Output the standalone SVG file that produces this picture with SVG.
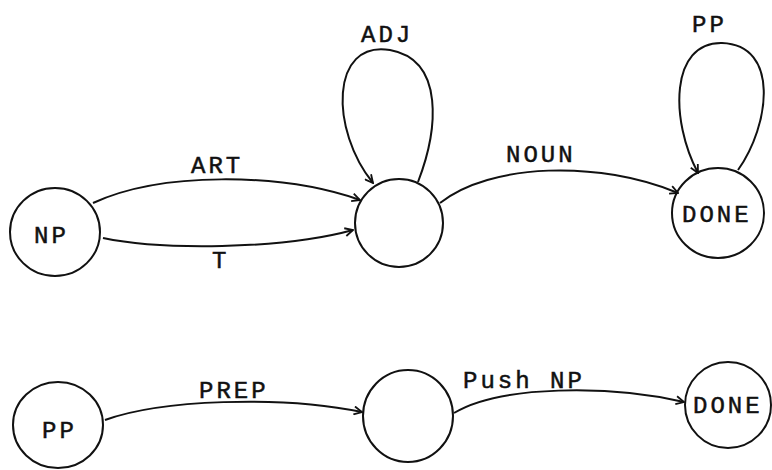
<svg xmlns="http://www.w3.org/2000/svg" width="772" height="470" viewBox="0 0 772 470">
<style>
.node{fill:none;stroke:#111;stroke-width:2}
.edge{fill:none;stroke:#111;stroke-width:2;marker-end:url(#arr)}
text{font-family:"Liberation Mono","Courier New",monospace;font-size:24px;letter-spacing:3px;fill:#111;stroke:#111;stroke-width:0.5}
</style>
<defs>
<marker id="arr" viewBox="0 0 10 10" refX="9" refY="5" markerWidth="10" markerHeight="10" markerUnits="userSpaceOnUse" orient="auto">
<path d="M1,1 L9,5 L1,9" fill="none" stroke="#111" stroke-width="1.8"/>
</marker>
</defs>
<rect width="772" height="470" fill="#fff"/>
<g id="connectors">
<path class="edge" d="M93,203 C160,172 280,172 360,200"/>
<path class="edge" d="M103,238 C160,250 280,250 353,230"/>
<path class="edge" d="M418,182 C438,130 445,60 390,50 C330,40 330,130 373,183"/>
<path class="edge" d="M440,203 C490,163 600,160 678,193"/>
<path class="edge" d="M738,170 C770,125 780,45 722,43 C670,42 670,120 698,173"/>
<path class="edge" d="M105,420 C160,400 280,395 362,412"/>
<path class="edge" d="M454,413 C500,385 610,385 684,402"/>
<text x="191" y="173">ART</text>
<text x="212" y="268">T</text>
<text x="361" y="42">ADJ</text>
<text x="506" y="162">NOUN</text>
<text x="692" y="32">PP</text>
<text x="199" y="398">PREP</text>
<text x="463" y="388">Push NP</text>
</g>
<g id="np"><ellipse class="node" cx="55" cy="232" rx="45" ry="44"/><text x="34" y="243">NP</text></g>
<g id="np-mid"><circle class="node" cx="399" cy="223" r="44"/></g>
<g id="np-done"><ellipse class="node" cx="718" cy="213" rx="46" ry="45"/><text x="682" y="222">DONE</text></g>
<g id="pp"><ellipse class="node" cx="58" cy="425" rx="45" ry="43"/><text x="42" y="438">PP</text></g>
<g id="pp-mid"><ellipse class="node" cx="408" cy="416" rx="45" ry="46"/></g>
<g id="pp-done"><circle class="node" cx="728" cy="405" r="43"/><text x="693" y="413">DONE</text></g>
</svg>
